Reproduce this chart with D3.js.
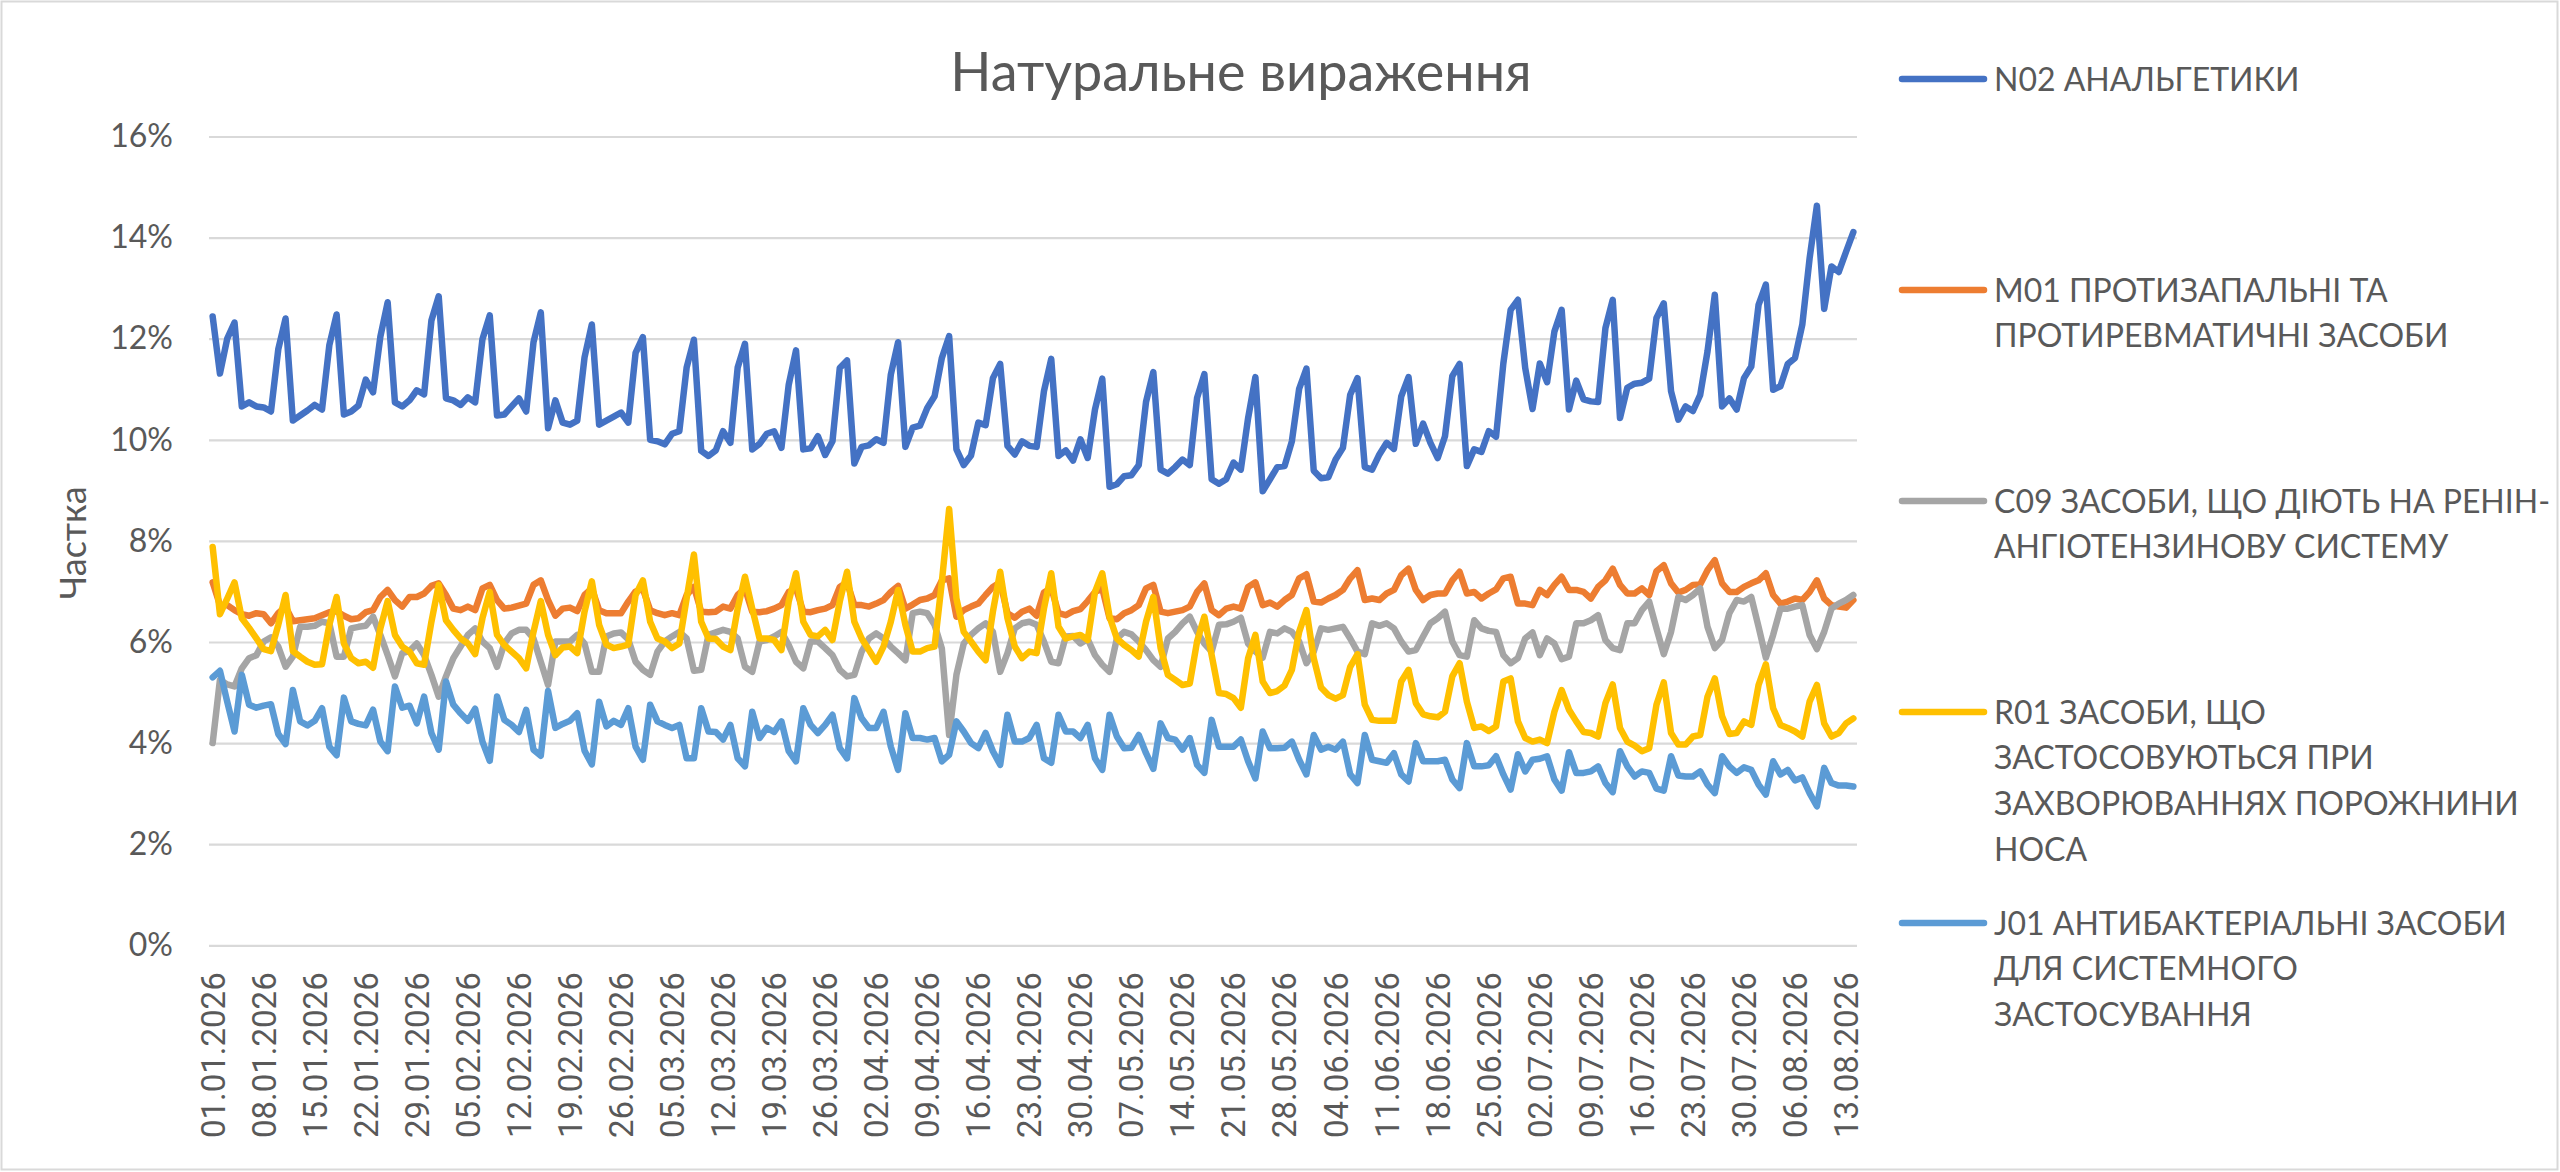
<!DOCTYPE html>
<html><head><meta charset="utf-8">
<script src="https://cdn.jsdelivr.net/npm/d3@7"></script>
<style>body{margin:0;background:#fff;} svg{display:block;}</style>
</head><body>
<svg id="chart" width="2560" height="1172"></svg>
<script>
// ---- data (values in %) ----
const titleText = "Натуральне вираження";
const yAxisTitle = "Частка";
const yTickValues = [0, 2, 4, 6, 8, 10, 12, 14, 16];
const startDay = new Date(2026, 0, 1);
const dayCount = 226;

const n02 = [12.44,11.31,12.0,12.32,10.66,10.74,10.66,10.64,10.56,11.79,
12.40,10.38,10.48,10.58,10.69,10.6,11.87,12.48,10.5,10.56,
10.68,11.19,10.94,12.04,12.72,10.74,10.66,10.78,10.98,10.9,
12.36,12.84,10.82,10.78,10.69,10.84,10.74,11.99,12.46,10.48,
10.5,10.66,10.82,10.56,11.93,12.52,10.23,10.78,10.34,10.3,
10.38,11.63,12.28,10.3,10.38,10.46,10.54,10.34,11.72,12.03,
10.0,9.97,9.91,10.12,10.17,11.43,11.98,9.78,9.68,9.79,
10.17,9.94,11.43,11.9,9.81,9.92,10.12,10.17,9.84,11.09,
11.77,9.81,9.83,10.07,9.7,9.97,11.42,11.57,9.53,9.86,
9.89,10.01,9.94,11.29,11.93,9.86,10.24,10.28,10.63,10.86,
11.62,12.05,9.81,9.5,9.69,10.34,10.29,11.22,11.5,9.88,
9.71,9.97,9.88,9.86,10.96,11.6,9.68,9.79,9.59,10.01,
9.64,10.6,11.21,9.07,9.12,9.28,9.3,9.5,10.75,11.34,
9.41,9.33,9.46,9.61,9.5,10.83,11.3,9.22,9.13,9.22,
9.55,9.41,10.43,11.24,8.98,9.22,9.46,9.48,9.97,11.01,
11.41,9.39,9.24,9.26,9.61,9.84,10.89,11.22,9.46,9.41,
9.71,9.94,9.82,10.86,11.24,9.92,10.32,9.94,9.64,10.07,
11.26,11.5,9.48,9.81,9.76,10.17,10.06,11.51,12.57,12.77,
11.42,10.61,11.51,11.14,12.14,12.57,10.6,11.17,10.8,10.76,
10.75,12.21,12.77,10.43,11.03,11.11,11.13,11.21,12.41,12.7,
10.96,10.4,10.66,10.57,10.89,11.75,12.87,10.66,10.82,10.6,
11.22,11.45,12.67,13.07,10.99,11.06,11.5,11.62,12.28,13.59,
14.63,12.59,13.43,13.32,13.72,14.11];

const m01 = [7.18,6.73,6.73,6.63,6.55,6.52,6.57,6.55,6.37,6.57,
6.7,6.41,6.43,6.45,6.47,6.53,6.59,6.61,6.52,6.45,
6.47,6.59,6.63,6.89,7.03,6.83,6.7,6.89,6.89,6.96,
7.11,7.16,6.93,6.66,6.63,6.7,6.63,7.06,7.13,6.83,
6.66,6.68,6.72,6.76,7.13,7.22,6.83,6.52,6.66,6.68,
6.61,6.93,7.06,6.63,6.57,6.57,6.57,6.8,7.0,7.05,
6.63,6.57,6.53,6.57,6.53,6.93,7.09,6.6,6.59,6.6,
6.7,6.66,6.93,7.06,6.6,6.59,6.61,6.66,6.73,6.99,
7.06,6.6,6.59,6.63,6.66,6.73,7.09,7.18,6.73,6.73,
6.7,6.76,6.83,6.99,7.11,6.66,6.74,6.83,6.86,6.93,
7.22,7.26,6.5,6.63,6.7,6.76,6.93,7.09,7.18,6.57,
6.48,6.6,6.66,6.52,6.98,7.07,6.57,6.53,6.61,6.65,
6.81,6.99,7.06,6.47,6.45,6.57,6.63,6.73,7.06,7.13,
6.6,6.57,6.6,6.63,6.7,6.99,7.16,6.63,6.53,6.66,
6.7,6.66,7.09,7.18,6.73,6.78,6.7,6.83,6.93,7.26,
7.34,6.8,6.78,6.86,6.93,7.03,7.26,7.42,6.83,6.86,
6.83,6.96,7.03,7.32,7.45,7.03,6.83,6.93,6.96,6.96,
7.22,7.39,6.96,6.99,6.86,6.96,7.04,7.26,7.29,6.76,
6.76,6.73,7.03,6.93,7.13,7.29,7.03,7.03,6.99,6.86,
7.09,7.22,7.45,7.13,6.96,6.96,7.06,6.93,7.4,7.52,
7.16,6.98,7.03,7.13,7.14,7.42,7.62,7.16,6.99,6.99,
7.09,7.16,7.22,7.36,6.93,6.76,6.8,6.86,6.83,6.99,
7.22,6.86,6.73,6.7,6.68,6.83];

const c09 = [4.0,5.25,5.16,5.12,5.48,5.68,5.74,6.01,6.09,5.91,
5.51,5.71,6.3,6.3,6.32,6.4,6.37,5.71,5.71,6.27,
6.3,6.32,6.5,6.14,5.74,5.32,5.78,5.82,5.97,5.74,
5.35,4.92,5.32,5.68,5.91,6.14,6.27,6.01,5.88,5.51,
5.97,6.17,6.24,6.24,6.07,5.61,5.15,6.01,6.01,6.01,
6.14,5.97,5.41,5.41,6.11,6.17,6.19,6.05,5.61,5.45,
5.35,5.81,6.01,6.11,6.2,6.07,5.43,5.45,6.14,6.19,
6.24,6.2,6.07,5.51,5.41,6.01,6.04,6.11,6.2,5.94,
5.61,5.48,6.01,6.01,5.88,5.74,5.45,5.32,5.35,5.81,
6.07,6.17,6.07,5.91,5.78,5.64,6.57,6.6,6.57,6.34,
5.87,4.16,5.35,5.97,6.14,6.27,6.37,6.2,5.41,5.78,
6.27,6.37,6.4,6.34,6.01,5.61,5.58,6.11,6.12,5.97,
6.06,5.74,5.55,5.41,6.07,6.2,6.15,6.01,5.84,5.64,
5.51,6.07,6.2,6.37,6.5,6.2,5.97,5.81,6.34,6.35,
6.4,6.48,5.97,5.81,5.69,6.2,6.17,6.27,6.2,6.01,
5.58,5.81,6.27,6.24,6.27,6.3,6.07,5.81,5.76,6.37,
6.32,6.37,6.27,6.01,5.81,5.84,6.11,6.37,6.47,6.6,
6.01,5.74,5.71,6.43,6.27,6.22,6.2,5.74,5.58,5.68,
6.07,6.19,5.74,6.07,5.97,5.66,5.71,6.37,6.37,6.43,
6.53,6.04,5.88,5.84,6.37,6.37,6.63,6.8,6.27,5.76,
6.2,6.89,6.83,6.93,7.06,6.3,5.88,6.04,6.57,6.83,
6.8,6.89,6.3,5.69,6.14,6.66,6.66,6.7,6.73,6.14,
5.86,6.2,6.66,6.76,6.83,6.93];

const r01 = [7.88,6.55,6.86,7.18,6.47,6.28,6.07,5.86,5.82,6.34,
6.93,5.82,5.71,5.61,5.55,5.56,6.34,6.89,5.97,5.68,
5.58,5.61,5.49,6.27,6.81,6.14,5.91,5.81,5.58,5.55,
6.4,7.13,6.43,6.24,6.07,5.97,5.76,6.47,6.99,6.14,
5.94,5.81,5.68,5.48,6.2,6.81,6.14,5.74,5.89,5.91,
5.78,6.6,7.2,6.34,5.95,5.88,5.91,5.95,6.93,7.22,
6.4,6.07,6.01,5.88,5.97,6.86,7.73,6.4,6.07,6.06,
5.91,5.84,6.66,7.29,6.66,6.07,6.07,6.04,5.84,6.8,
7.36,6.4,6.14,6.11,6.24,6.04,6.8,7.39,6.4,6.07,
5.84,5.61,5.91,6.4,7.03,6.34,5.81,5.81,5.88,5.91,
7.19,8.63,6.86,6.2,6.01,5.81,5.64,6.6,7.39,6.47,
5.91,5.68,5.81,5.78,6.66,7.36,6.3,6.07,6.11,6.14,
6.04,6.99,7.36,6.5,6.07,5.94,5.84,5.71,6.4,6.89,
5.88,5.35,5.25,5.15,5.18,6.01,6.5,5.74,4.99,4.97,
4.89,4.7,5.68,6.14,5.22,4.99,5.03,5.14,5.45,6.2,
6.63,5.68,5.1,4.95,4.88,4.95,5.51,5.76,4.76,4.46,
4.44,4.44,4.44,5.22,5.45,4.79,4.57,4.53,4.51,4.62,
5.32,5.58,4.82,4.3,4.33,4.24,4.33,5.22,5.28,4.43,
4.1,4.03,4.07,4.0,4.62,5.05,4.66,4.43,4.22,4.2,
4.13,4.79,5.16,4.3,4.03,3.95,3.84,3.9,4.76,5.2,
4.2,3.97,3.97,4.13,4.16,4.92,5.28,4.53,4.18,4.2,
4.43,4.36,5.15,5.56,4.69,4.36,4.3,4.23,4.13,4.82,
5.15,4.39,4.13,4.2,4.39,4.49];

const j01 = [5.3,5.43,4.82,4.23,5.35,4.76,4.7,4.74,4.77,4.18,
3.98,5.05,4.43,4.35,4.44,4.69,3.93,3.76,4.9,4.43,
4.38,4.35,4.66,4.03,3.84,5.12,4.7,4.74,4.39,4.92,
4.2,3.87,5.22,4.76,4.59,4.44,4.68,4.03,3.65,4.92,
4.46,4.36,4.22,4.66,3.87,3.75,5.03,4.3,4.38,4.44,
4.59,3.85,3.58,4.82,4.33,4.44,4.36,4.69,3.93,3.67,
4.76,4.43,4.36,4.3,4.36,3.7,3.7,4.69,4.23,4.22,
4.07,4.36,3.7,3.54,4.62,4.1,4.3,4.22,4.43,3.84,
3.64,4.69,4.36,4.2,4.36,4.56,3.9,3.7,4.89,4.49,
4.3,4.3,4.62,3.93,3.47,4.59,4.1,4.1,4.07,4.1,
3.64,3.77,4.43,4.23,4.0,3.9,4.2,3.84,3.57,4.56,
4.03,4.03,4.1,4.36,3.7,3.61,4.56,4.23,4.23,4.1,
4.36,3.7,3.47,4.56,4.13,3.9,3.91,4.16,3.8,3.49,
4.39,4.1,4.07,3.87,4.1,3.57,3.41,4.46,3.93,3.93,
3.93,4.07,3.64,3.3,4.23,3.9,3.9,3.91,4.03,3.67,
3.38,4.16,3.87,3.93,3.87,4.03,3.38,3.21,4.16,3.67,
3.64,3.61,3.8,3.38,3.24,4.0,3.64,3.64,3.64,3.67,
3.28,3.11,4.0,3.54,3.54,3.56,3.74,3.38,3.08,3.78,
3.44,3.67,3.69,3.74,3.28,3.06,3.82,3.41,3.41,3.44,
3.54,3.21,3.03,3.84,3.54,3.34,3.44,3.41,3.1,3.06,
3.74,3.36,3.34,3.34,3.44,3.18,3.01,3.74,3.54,3.41,
3.52,3.47,3.18,2.98,3.64,3.38,3.47,3.26,3.32,3.01,
2.75,3.51,3.21,3.16,3.16,3.14];

const seriesLabels = [
  ["N02 АНАЛЬГЕТИКИ"],
  ["M01 ПРОТИЗАПАЛЬНІ ТА", "ПРОТИРЕВМАТИЧНІ ЗАСОБИ"],
  ["C09 ЗАСОБИ, ЩО ДІЮТЬ НА РЕНІН-", "АНГІОТЕНЗИНОВУ СИСТЕМУ"],
  ["R01 ЗАСОБИ, ЩО", "ЗАСТОСОВУЮТЬСЯ ПРИ", "ЗАХВОРЮВАННЯХ ПОРОЖНИНИ", "НОСА"],
  ["J01 АНТИБАКТЕРІАЛЬНІ ЗАСОБИ", "ДЛЯ СИСТЕМНОГО", "ЗАСТОСУВАННЯ"]
];
const seriesValues = [n02, m01, c09, r01, j01];
const seriesColors = ["#4472C4", "#ED7D31", "#A5A5A5", "#FFC000", "#5B9BD5"];

// categories (dates)
const fmt = d3.timeFormat("%d.%m.%Y");
const categories = d3.range(dayCount).map(i => fmt(d3.timeDay.offset(startDay, i)));
const tickLabels = categories.filter((c, i) => i % 7 === 0);

// ---- chart ----
const svg = d3.select("#chart");
const textColor = "#595959";
const plot = {left: 209, right: 1857, top: 136.5, bottom: 945.3};

svg.append("rect").attr("x", 1.5).attr("y", 1.5).attr("width", 2556).attr("height", 1168)
  .attr("fill", "#fff").attr("stroke", "#d9d9d9").attr("stroke-width", 2);

const x = d3.scaleBand().domain(categories).range([plot.left, plot.right]);
const cx = c => x(c) + x.bandwidth() / 2;
const y = d3.scaleLinear().domain([0, 16]).range([plot.bottom, plot.top]);

// y axis + gridlines
const gy = svg.append("g").attr("transform", `translate(${plot.left},0)`)
  .call(d3.axisLeft(y).tickValues(yTickValues).tickFormat(d => d + "%")
    .tickSize(-(plot.right - plot.left)).tickPadding(36));
gy.select(".domain").remove();
gy.selectAll(".tick line").attr("stroke", "#d9d9d9").attr("stroke-width", 2.2);
gy.selectAll(".tick text").attr("fill", textColor)
  .style("font-family", "Lato, 'Open Sans', sans-serif").style("font-size", "32px");

// x axis labels
const gx = svg.append("g").attr("transform", `translate(0,${plot.bottom})`)
  .call(d3.axisBottom(x).tickValues(tickLabels).tickSize(0));
gx.select(".domain").remove();
gx.selectAll(".tick text")
  .attr("transform", "rotate(-90)")
  .attr("text-anchor", "end")
  .attr("x", -27).attr("y", 0).attr("dy", "0.36em")
  .attr("fill", textColor)
  .style("font-family", "Roboto, 'Open Sans', sans-serif").style("font-size", "33px");

// lines
const line = d3.line().x((d, i) => cx(categories[i])).y(d => y(d));
seriesValues.forEach((vals, k) => {
  svg.append("path").datum(vals).attr("d", line)
    .attr("fill", "none").attr("stroke", seriesColors[k]).attr("stroke-width", 6.5)
    .attr("stroke-linejoin", "round").attr("stroke-linecap", "round");
});

// title
svg.append("text").attr("x", 1241).attr("y", 91).attr("text-anchor", "middle")
  .attr("fill", textColor).style("font-family", "Lato, sans-serif").style("font-weight", 400)
  .style("font-size", "54px").text(titleText);

// y axis title
svg.append("text").attr("transform", "translate(73,543) rotate(-90)")
  .attr("text-anchor", "middle").attr("dy", "0.36em").attr("fill", textColor)
  .style("font-family", "Lato, sans-serif").style("font-size", "36px").text(yAxisTitle);

// legend
const legendRows = [79, 290, 501, 712, 923];
const lg = svg.append("g");
seriesLabels.forEach((lines, k) => {
  const yy = legendRows[k];
  lg.append("line").attr("x1", 1902).attr("x2", 1984).attr("y1", yy).attr("y2", yy)
    .attr("stroke", seriesColors[k]).attr("stroke-width", 6.5).attr("stroke-linecap", "round");
  const t = lg.append("text").attr("x", 1994).attr("y", yy).attr("fill", textColor)
    .style("font-family", "Lato, sans-serif").style("font-size", "32px");
  lines.forEach((ln, j) => {
    t.append("tspan").attr("x", 1994).attr("y", yy + j * 45.8).attr("dy", "0.36em").text(ln);
  });
});
</script>
</body></html>
